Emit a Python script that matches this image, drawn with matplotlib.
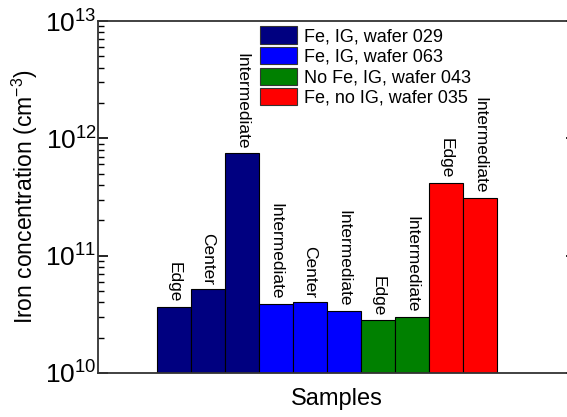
import matplotlib
matplotlib.use("Agg")
import matplotlib.pyplot as plt
from matplotlib.patches import Patch
from matplotlib.ticker import LogLocator

plt.rcParams["font.family"] = ["Liberation Sans", "DejaVu Sans"]
plt.rcParams["mathtext.default"] = "regular"

# bar labels and concentrations (cm^-3), left to right
positions = ["Edge", "Center", "Intermediate",
             "Intermediate", "Center", "Intermediate",
             "Edge", "Intermediate",
             "Edge", "Intermediate"]
concentration = [3.67e10, 5.17e10, 7.46e11,
                 3.90e10, 4.01e10, 3.40e10,
                 2.81e10, 3.00e10,
                 4.19e11, 3.10e11]
groups = [0, 0, 0, 1, 1, 1, 2, 2, 3, 3]
group_names = ["Fe, IG, wafer 029", "Fe, IG, wafer 063",
               "No Fe, IG, wafer 043", "Fe, no IG, wafer 035"]
group_colors = ["#000080", "#0000ff", "#008000", "#ff0000"]

fig = plt.figure(figsize=(5.67, 4.17), dpi=100)
# right spine sits just outside the picture, as in the original
ax = fig.add_axes([98 / 567, 44 / 417, 478 / 567, 352 / 417])

x = list(range(len(concentration)))
colors = [group_colors[g] for g in groups]
ax.bar(x, concentration, width=1.0, color=colors,
       edgecolor="black", linewidth=0.8)

for xi, val, lab in zip(x, concentration, positions):
    ax.annotate(lab, (xi, val), xytext=(0, 3), textcoords="offset points",
                rotation=-90, ha="center", va="bottom", fontsize=12.5)

ax.set_yscale("log")
ax.set_ylim(1e10, 1e13)
ax.set_xlim(-2.235, 11.82)
ax.set_xticks([])
ax.yaxis.set_major_locator(LogLocator(base=10, numticks=10))
ax.yaxis.set_minor_locator(LogLocator(base=10, subs=range(2, 10), numticks=20))
ax.tick_params(axis="y", which="both", direction="in", right=True,
               labelsize=19, pad=1)
ax.tick_params(axis="y", which="major", length=7, width=1.2)
ax.tick_params(axis="y", which="minor", length=4, width=1)
for sp in ax.spines.values():
    sp.set_linewidth(1.3)
    sp.set_color("#333333")

ax.set_ylabel("Iron concentration (cm$^{-3}$)", fontsize=16.5, labelpad=4)
ax.set_xlabel("Samples", fontsize=17, labelpad=11)

handles = [Patch(facecolor=c, edgecolor="#333333", linewidth=0.8) for c in group_colors]
ax.legend(handles, group_names, loc="upper left", bbox_to_anchor=(0.338, 0.985),
          frameon=False, fontsize=13, handlelength=2.1, handleheight=1.1,
          labelspacing=0.1, handletextpad=0.35, borderpad=0, borderaxespad=0)

fig.savefig("out.png", dpi=100)
